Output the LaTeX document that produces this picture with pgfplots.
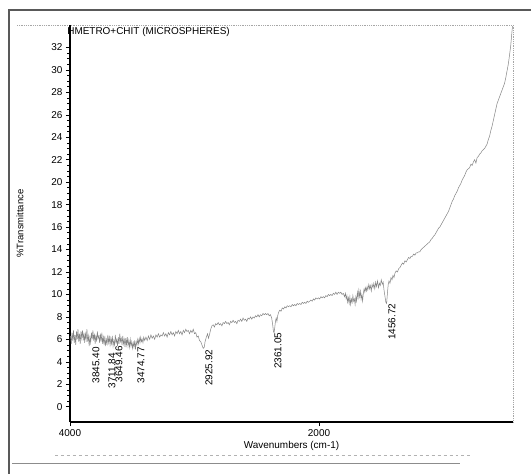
\documentclass[border=0pt]{standalone}
\usepackage{fontspec}
\setmainfont{Liberation Sans}
\usepackage{pgfplots}
\pgfplotsset{compat=1.18}
\usepackage{pgfplotstable}

% FTIR spectrum (wavenumber, %T)
\pgfplotstableread{
wn T
3996 6.3
3990 5.6
3984 6.6
3978 5.9
3972 6.8
3966 5.7
3960 6.4
3954 5.5
3948 6.7
3942 6.0
3936 6.9
3930 5.8
3924 6.5
3918 5.6
3912 6.7
3906 6.1
3900 6.8
3894 5.9
3888 6.6
3882 5.7
3876 6.5
3870 6.0
3864 6.9
3858 5.8
3852 6.3
3846 5.4
3840 6.2
3834 5.7
3828 6.6
3822 6.0
3816 6.8
3810 5.9
3804 6.5
3798 5.6
3792 6.4
3786 5.8
3780 6.7
3774 6.1
3768 6.3
3762 5.7
3756 6.5
3750 5.8
3744 6.6
3738 5.6
3732 6.2
3726 5.5
3720 6.3
3714 5.4
3708 6.0
3702 5.6
3696 6.4
3690 5.7
3684 6.2
3678 5.5
3672 6.1
3666 5.6
3660 6.3
3654 5.4
3648 5.9
3642 5.5
3636 6.4
3630 5.7
3624 6.0
3618 5.4
3612 6.2
3606 5.6
3600 6.5
3594 5.8
3588 6.1
3582 5.5
3576 6.3
3570 5.6
3564 6.0
3558 5.3
3552 6.1
3546 5.5
3540 6.2
3534 5.4
3528 5.9
3522 5.3
3516 6.0
3510 5.4
3504 5.8
3498 5.2
3492 5.7
3486 5.3
3480 5.9
3474 5.1
3468 5.8
3462 5.5
3456 6.0
3450 5.6
3444 6.1
3438 5.7
3432 6.2
3426 5.8
3420 6.0
3414 5.7
3408 6.2
3400 5.9
3390 6.2
3380 5.9
3370 6.3
3360 6.0
3350 6.4
3340 6.1
3330 6.3
3320 6.0
3310 6.4
3300 6.2
3290 6.5
3280 6.2
3270 6.4
3260 6.3
3250 6.6
3240 6.3
3230 6.5
3220 6.2
3210 6.6
3200 6.4
3190 6.7
3180 6.4
3170 6.6
3160 6.3
3150 6.7
3140 6.5
3130 6.8
3120 6.5
3110 6.7
3100 6.4
3090 6.8
3080 6.6
3070 6.9
3060 6.7
3050 6.8
3040 6.5
3030 6.8
3020 6.6
3010 6.9
3000 6.5
2990 6.6
2980 6.2
2970 6.3
2960 5.9
2950 5.8
2940 5.5
2930 5.2
2922 5.3
2915 5.8
2905 6.2
2895 6.5
2888 6.1
2880 6.4
2870 6.9
2860 7.2
2850 7.3
2840 7.1
2830 7.4
2820 7.3
2810 7.5
2800 7.3
2790 7.4
2780 7.2
2770 7.5
2760 7.4
2750 7.6
2740 7.4
2730 7.5
2720 7.3
2710 7.6
2700 7.5
2690 7.7
2680 7.5
2670 7.6
2660 7.4
2650 7.7
2640 7.6
2630 7.8
2620 7.6
2610 7.9
2600 7.7
2590 7.8
2580 7.6
2570 7.9
2560 7.8
2550 8.0
2540 7.8
2530 8.0
2520 7.9
2510 8.1
2500 8.0
2490 8.2
2480 8.0
2470 8.2
2460 8.1
2450 8.3
2440 8.2
2430 8.3
2420 8.2
2410 8.3
2400 8.1
2390 8.2
2380 7.9
2372 7.3
2366 6.7
2361 6.6
2356 7.0
2350 7.6
2344 7.9
2338 7.6
2332 8.1
2325 8.4
2315 8.6
2305 8.5
2295 8.8
2285 8.7
2275 8.9
2265 8.8
2255 9.0
2245 8.9
2235 9.0
2225 8.9
2215 9.1
2205 9.0
2195 9.1
2185 9.0
2175 9.2
2165 9.1
2155 9.2
2145 9.1
2135 9.3
2125 9.2
2115 9.3
2105 9.2
2095 9.4
2085 9.3
2075 9.4
2065 9.5
2055 9.4
2045 9.6
2035 9.5
2025 9.7
2015 9.6
2005 9.7
1995 9.6
1985 9.8
1975 9.7
1965 9.8
1955 9.7
1945 9.9
1935 9.8
1925 10.0
1915 9.9
1905 10.0
1895 9.9
1885 10.1
1875 10.0
1865 10.2
1855 10.0
1845 10.2
1835 10.1
1825 10.2
1815 10.0
1805 10.1
1795 9.8
1788 10.1
1782 9.6
1776 9.9
1770 9.3
1764 9.7
1758 9.2
1752 9.8
1746 9.1
1740 9.6
1734 9.3
1728 9.9
1722 9.4
1716 9.6
1710 9.1
1704 9.8
1698 9.4
1692 10.2
1686 9.7
1680 10.4
1674 9.8
1668 10.3
1662 9.6
1656 10.0
1650 9.4
1644 10.1
1638 10.5
1632 10.2
1626 10.6
1620 10.3
1614 10.7
1608 10.4
1600 10.9
1594 10.5
1588 10.8
1580 10.3
1574 10.9
1566 10.6
1560 11.0
1552 10.5
1545 11.1
1538 10.7
1530 11.2
1522 10.6
1515 11.0
1508 10.8
1500 11.3
1492 10.9
1485 11.1
1478 10.4
1470 9.8
1463 9.3
1457 9.2
1450 10.2
1444 10.9
1438 11.2
1430 11.0
1422 11.5
1414 11.3
1406 11.7
1398 11.5
1390 11.9
1380 12.1
1370 12.0
1360 12.3
1350 12.4
1340 12.6
1330 12.8
1320 12.7
1310 13.0
1300 12.9
1290 13.1
1280 13.3
1270 13.2
1260 13.4
1250 13.4
1240 13.6
1230 13.5
1220 13.7
1210 13.7
1200 13.8
1190 13.8
1180 14.0
1170 14.1
1160 14.2
1150 14.3
1140 14.4
1130 14.5
1120 14.6
1110 14.7
1100 14.9
1090 15.0
1080 15.2
1070 15.3
1060 15.5
1050 15.7
1040 15.9
1030 16.0
1020 16.2
1010 16.4
1000 16.6
990 16.8
980 17.0
970 17.2
960 17.4
950 17.7
940 18.0
930 18.3
920 18.5
910 18.8
900 19.0
890 19.2
880 19.5
870 19.7
860 19.9
850 20.2
840 20.4
830 20.6
820 20.9
810 21.1
800 21.2
790 21.3
780 21.6
770 21.5
760 21.8
750 22.0
740 21.7
730 22.2
720 22.3
710 22.5
700 22.6
690 22.8
680 22.9
670 23.0
660 23.2
650 23.4
640 23.8
630 24.1
620 24.6
610 25.0
600 25.5
590 26.0
580 26.5
570 27.0
560 27.3
550 27.6
540 27.9
530 28.2
520 28.5
510 28.8
500 29.3
490 29.9
480 30.5
470 31.3
460 32.2
452 33.2
446 33.9
}\spectrum

\begin{document}
\begin{tikzpicture}
\useasboundingbox (0,0) rectangle (531bp,474bp);
\fill[white] (0,0) rectangle (531bp,474bp);
% scanned page frame and scan streaks
\draw[black!65, line width=1.3bp] (9bp,0) -- (9bp,464bp) -- (531bp,464bp);
\draw[black!35, densely dotted, line width=0.8bp] (17bp,449bp) -- (513bp,449bp) -- (513bp,52bp);
\draw[black!30, dashed, line width=0.6bp] (55bp,19bp) -- (470bp,19bp);
\draw[black!45, line width=1bp] (12bp,10bp) -- (460bp,10bp);
\begin{axis}[
  at={(70bp,52bp)}, anchor=south west,
  scale only axis, width=443bp, height=397bp,
  x dir=reverse, xmin=442, xmax=4000,
  ymin=-1.36, ymax=34,
  axis lines*=left,
  axis line style={line width=1.3bp},
  xtick={4000,2000},
  ytick={0,2,...,32},
  minor y tick num=3,
  tick align=outside,
  major tick length=4bp, minor tick length=2.5bp,
  tick style={black, line width=0.6bp},
  /pgf/number format/assume math mode=true,
  /pgf/number format/1000 sep={},
  tick label style={font=\fontsize{10}{11}\selectfont},
  xlabel={Wavenumbers (cm-1)},
  xlabel style={font=\fontsize{10}{11}\selectfont, yshift=2bp},
  ylabel={\%Transmittance},
  ylabel style={font=\fontsize{9.5}{10}\selectfont, at={(axis description cs:-0.113,0.5)}, anchor=center},
  clip=false,
]
\addplot[black!48, line width=0.5bp] table[x=wn, y=T] {\spectrum};
\node[anchor=west, font=\fontsize{10}{11}\selectfont] at (axis description cs:-0.014,0.982) {HMETRO+CHIT (MICROSPHERES)};
\begin{scope}[every node/.style={rotate=90, anchor=east, inner sep=0pt, font=\fontsize{10}{11}\selectfont}]
\node at (axis cs:3791,5.3) {3845.40};
\node at (axis cs:3663,4.8) {3711.84};
\node at (axis cs:3606,5.4) {3649.46};
\node at (axis cs:3430,5.3) {3474.77};
\node at (axis cs:2884,5.1) {2925.92};
\node at (axis cs:2329,6.6) {2361.05};
\node at (axis cs:1414,9.2) {1456.72};
\end{scope}
\end{axis}
\end{tikzpicture}
\end{document}
